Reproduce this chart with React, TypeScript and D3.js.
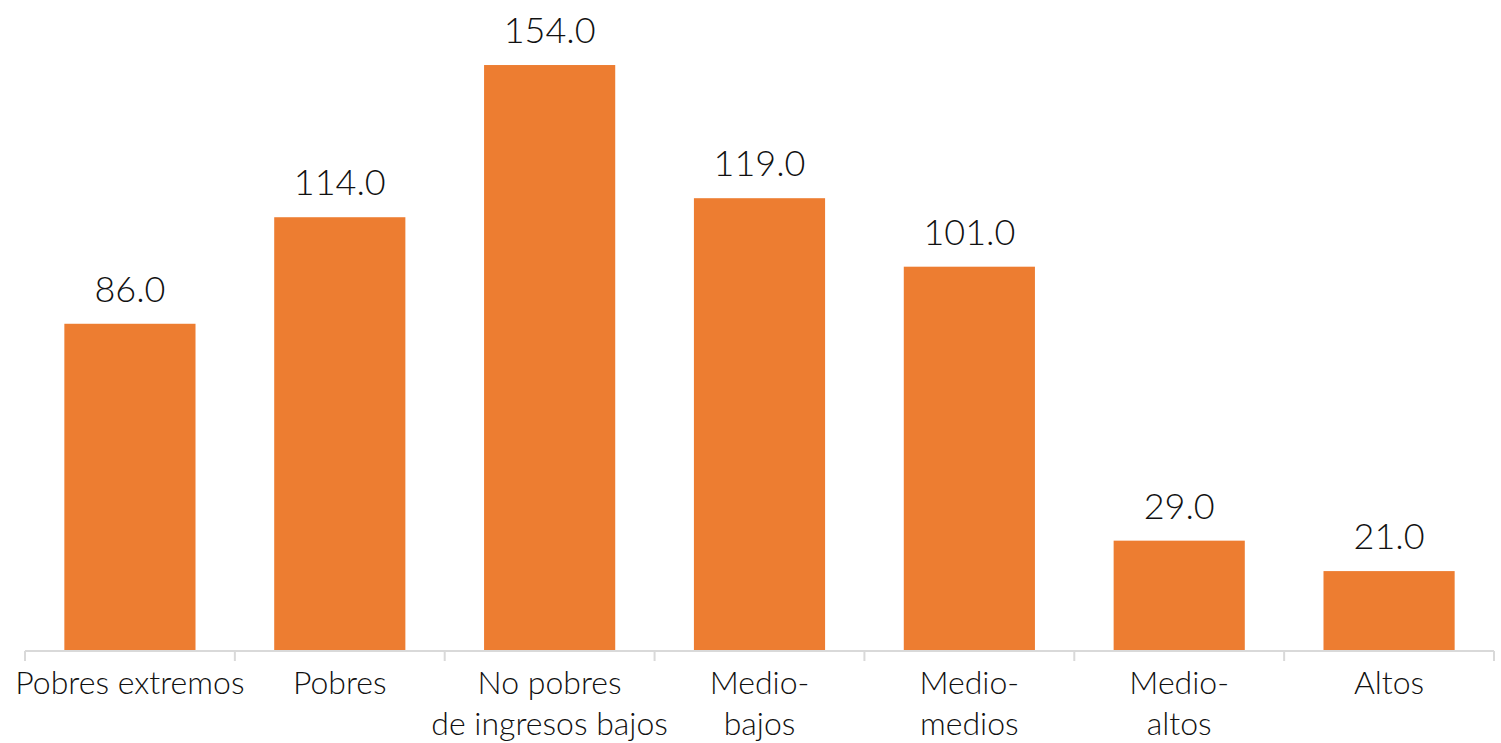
import React, { useEffect, useRef } from "react";
import * as d3 from "d3";

const categories: string[][] = [
  ["Pobres extremos"],
  ["Pobres"],
  ["No pobres", "de ingresos bajos"],
  ["Medio-", "bajos"],
  ["Medio-", "medios"],
  ["Medio-", "altos"],
  ["Altos"],
];
const values = [86, 114, 154, 119, 101, 29, 21];

const W = 1501;
const H = 743;

const App = () => {
  const ref = useRef<SVGSVGElement>(null);

  useEffect(() => {
    if (!ref.current) return;
    const svg = d3.select(ref.current);
    svg.selectAll("*").remove();

    const left = 25;
    const right = 1494;
    const baseline = 651;

    const x = d3
      .scaleBand<number>()
      .domain(d3.range(values.length))
      .range([left, right])
      .paddingInner(0.375)
      .paddingOuter(0.1875);

    const y = d3.scaleLinear().domain([0, 160]).range([baseline, 42.2]);

    // bars
    svg
      .append("g")
      .selectAll("rect")
      .data(values)
      .join("rect")
      .attr("x", (_, i) => x(i)!)
      .attr("width", x.bandwidth())
      .attr("y", (d) => y(d))
      .attr("height", (d) => baseline - y(d))
      .attr("fill", "#ED7D31");

    // value labels
    svg
      .append("g")
      .selectAll("text")
      .data(values)
      .join("text")
      .attr("x", (_, i) => x(i)! + x.bandwidth() / 2)
      .attr("y", (d) => y(d) - 22)
      .attr("text-anchor", "middle")
      .attr("font-family", "Lato, sans-serif")
      .attr("font-weight", 300)
      .attr("font-size", 36)
      .attr("fill", "#111")
      .text((d) => d.toFixed(1));

    // axis line and ticks at category boundaries
    const step = (right - left) / values.length;
    const axis = svg.append("g").attr("stroke", "#d9d9d9").attr("stroke-width", 2);
    axis
      .append("line")
      .attr("x1", left)
      .attr("x2", right)
      .attr("y1", baseline)
      .attr("y2", baseline);
    d3.range(values.length + 1).forEach((i) => {
      axis
        .append("line")
        .attr("x1", left + i * step)
        .attr("x2", left + i * step)
        .attr("y1", baseline)
        .attr("y2", baseline + 10);
    });

    // category labels
    const labels = svg
      .append("g")
      .selectAll("text")
      .data(categories)
      .join("text")
      .attr("text-anchor", "middle")
      .attr("font-family", "Lato, sans-serif")
      .attr("font-weight", 300)
      .attr("font-size", 32)
      .attr("fill", "#111");
    labels.each(function (lines, i) {
      const cx = x(i)! + x.bandwidth() / 2;
      d3.select(this)
        .selectAll("tspan")
        .data(lines)
        .join("tspan")
        .attr("x", cx)
        .attr("y", (_, j) => 694 + j * 41)
        .text((t) => t);
    });
  }, []);

  return (
    <svg
      ref={ref}
      width={W}
      height={H}
      style={{ position: "absolute", left: 0, top: 0, background: "#fff" }}
    />
  );
};

export default App;
